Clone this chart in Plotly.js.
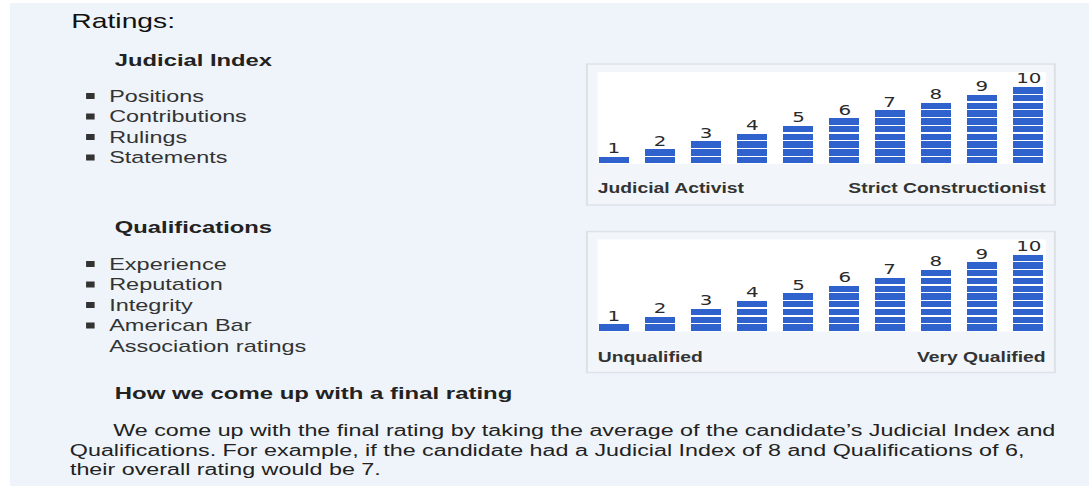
<!DOCTYPE html>
<html>
<head>
<meta charset="utf-8">
<script src="https://cdn.plot.ly/plotly-3.0.1.min.js"></script>
<style>
  html, body { margin: 0; padding: 0; overflow: hidden; background: #ffffff; }
  #chart { width: 778px; height: 486px; transform: scale(1.39974, 1); transform-origin: 0 0; }
</style>
</head>
<body>
<div id="chart"></div>
<script>
// ---- data ----
const categories = [1, 2, 3, 4, 5, 6, 7, 8, 9, 10];
const tickLabels = ['1', '2', '3', '4', '5', '6', '7', '8', '9', '10'];
const judicialIndex = [1, 2, 3, 4, 5, 6, 7, 8, 9, 10];
const qualifications = [1, 2, 3, 4, 5, 6, 7, 8, 9, 10];
const judicialEnds = ['Judicial Activist', 'Strict Constructionist'];
const qualificationEnds = ['Unqualified', 'Very Qualified'];
const judicialItems = ['Positions', 'Contributions', 'Rulings', 'Statements'];
const qualificationItems = ['Experience', 'Reputation', 'Integrity', 'American Bar', 'Association ratings'];
const paragraph = [
  'We come up with the final rating by taking the average of the candidate\u2019s Judicial Index and',
  'Qualifications. For example, if the candidate had a Judicial Index of 8 and Qualifications of 6,',
  'their overall rating would be 7.'
];

// ---- layout helpers (design frame 778 x 486, stretched horizontally by CSS) ----
const W = 778, H = 486;
const DX = -2.3; // annotation padding compensation
const px = x => x / W;
const py = y => 1 - y / H;
const BLUE = '#2f62cc';
const SANS = 'Liberation Sans, Arial, sans-serif';

const traces = [];
const annotations = [];
function addBars(values, xa, ya) {
  const maxV = Math.max(...values);
  for (let k = 1; k <= maxV; k++) {
    traces.push({
      type: 'bar', x: categories, y: values.map(v => (v >= k ? 1 : null)),
      xaxis: xa, yaxis: ya, width: 0.7,
      marker: { color: BLUE, line: { color: '#ffffff', width: 1.3 } },
      hoverinfo: 'skip', showlegend: false
    });
  }
  values.forEach((v, i) => {
    annotations.push({
      text: tickLabels[i], x: categories[i], y: v, xref: xa, yref: ya,
      xanchor: 'center', yanchor: 'bottom', yshift: -2, showarrow: false,
      font: { family: 'DejaVu Sans, Verdana, sans-serif', size: 14.2, color: '#2a2a2a' }
    });
  });
}
addBars(judicialIndex, 'x', 'y');
addBars(qualifications, 'x2', 'y2');

const xr = [0.65, 10.38], yr = [0, 11.87];
const axX = d => ({ domain: d, range: xr, visible: false, fixedrange: true });
const axY = d => ({ domain: d, range: yr, visible: false, fixedrange: true });

function txt(text, x, y, size, opts = {}) {
  const xa = (opts.xanchor === 'right') ? x - DX : x + DX;
  annotations.push(Object.assign({
    text: text, xref: 'paper', yref: 'paper', x: px(xa), y: py(y),
    xanchor: 'left', yanchor: 'middle', showarrow: false,
    font: { family: SANS, size: size, color: '#333333' }
  }, opts));
}
const shapes = [];
// page background
shapes.push({ type: 'rect', xref: 'paper', yref: 'paper', x0: px(7.1), x1: 1, y0: 0, y1: py(3),
  fillcolor: '#eef4fa', line: { width: 0 }, layer: 'below' });
// panels
[[64, 205], [231.5, 372.5]].forEach(([t, b]) => {
  shapes.push({ type: 'rect', xref: 'paper', yref: 'paper', x0: px(419.3), x1: px(753.6), y0: py(b), y1: py(t),
    fillcolor: '#f2f6fa', line: { color: '#dde2e7', width: 1.5 }, layer: 'below' });
});
[['x', 'y'], ['x2', 'y2']].forEach(([xa, ya]) => {
  shapes.push({ type: 'rect', xref: xa + ' domain', yref: ya + ' domain', x0: 0, x1: 1, y0: 0, y1: 1,
    fillcolor: '#ffffff', line: { width: 0 }, layer: 'below' });
});
function bullet(y) {
  shapes.push({ type: 'rect', xref: 'paper', yref: 'paper', x0: px(61.5), x1: px(67.6), y0: py(y + 3), y1: py(y - 3),
    fillcolor: '#333333', line: { width: 0 }, layer: 'above' });
}

// left column text
const HEAD = { family: SANS, size: 17, color: '#222222' };
const PARA = { family: SANS, size: 16.65, color: '#222222' };
txt('Ratings:', 51.4, 20.5, 20.2, { font: { family: SANS, size: 20.2, color: '#111111' } });
txt('<b>Judicial Index</b>', 82, 60, 17, { font: HEAD });
const jY = [96, 116.5, 137, 157.5];
judicialItems.forEach((t, i) => { txt(t, 77.9, jY[i], 16.7); bullet(jY[i]); });
txt('<b>Qualifications</b>', 82, 227.5, 17, { font: HEAD });
const qY = [264, 284.5, 305, 325.5, 346];
qualificationItems.forEach((t, i) => { txt(t, 77.9, qY[i], 16.8); if (i < 4) bullet(qY[i]); });
txt('<b>How we come up with a final rating</b>', 82, 393.5, 17.1, { font: Object.assign({}, HEAD, { size: 17.1 }) });
txt(paragraph[0], 81.4, 430, 16.65, { font: PARA });
txt(paragraph[1], 50, 450, 16.65, { font: PARA });
txt(paragraph[2], 50, 469.5, 16.65, { font: PARA });

// panel end labels
const LBL = { family: SANS, size: 13.8, color: '#333333' };
txt('<b>' + judicialEnds[0] + '</b>', 427.1, 189, 13.8, { font: LBL });
txt('<b>' + judicialEnds[1] + '</b>', 746.4, 189, 13.8, { font: LBL, xanchor: 'right' });
txt('<b>' + qualificationEnds[0] + '</b>', 427.1, 357, 13.8, { font: LBL });
txt('<b>' + qualificationEnds[1] + '</b>', 746.4, 357, 13.8, { font: LBL, xanchor: 'right' });

const layout = {
  width: W, height: H, margin: { l: 0, r: 0, t: 0, b: 0 },
  paper_bgcolor: '#ffffff', plot_bgcolor: 'rgba(0,0,0,0)',
  barmode: 'stack', bargap: 0.3, showlegend: false,
  xaxis: axX([px(427.1), px(747.1)]), yaxis: axY([py(164), py(72)]),
  xaxis2: axX([px(427.1), px(747.1)]), yaxis2: axY([py(331.4), py(239.4)]),
  shapes: shapes, annotations: annotations
};
Plotly.newPlot('chart', traces, layout, { staticPlot: true, displayModeBar: false });
</script>
</body>
</html>
